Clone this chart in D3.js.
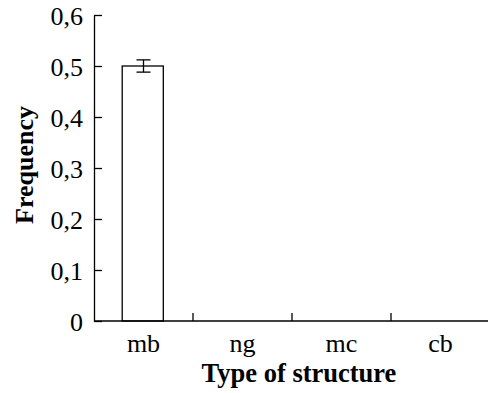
<!DOCTYPE html>
<html lang="en">
<head>
    <meta charset="UTF-8">
    <title>frequency</title>
    <script src="https://cdn.jsdelivr.net/npm/d3@7"></script>
    <style>
        body { margin: 0; background: #fff; }
        svg text { font-family: "Liberation Serif", "Times New Roman", serif; fill: #000; }
        .axis path, .axis line { stroke: #000; stroke-width: 1.3px; }
        .bar { fill: #fff; stroke: #000; stroke-width: 1.3px; }
        .err line { stroke: #000; stroke-width: 1.3px; fill: none; }
    </style>
</head>
<body>
    <svg width="488" height="393"></svg>
    <script>
        var categories = ['mb', 'ng', 'mc', 'cb'],
            values = [0.5, 0, 0, 0],
            errors = [0.012, 0, 0, 0],
            yTicks = [0, 0.1, 0.2, 0.3, 0.4, 0.5, 0.6],
            yTickLabels = ['0', '0,1', '0,2', '0,3', '0,4', '0,5', '0,6'];

        (function() {
        var svg = d3.select('svg'),
            pLeft = 94, pRight = 490, pTop = 15, pBottom = 321,
            fs = '26px';

        var x = d3.scaleBand()
            .domain(categories)
            .range([pLeft, pRight]);

        var y = d3.scaleLinear()
            .domain([0, 0.6])
            .range([pBottom, pTop]);

        // y axis, ticks pointing inward
        var yAxis = svg.append('g')
            .classed('axis', true)
            .attr('transform', 'translate(' + pLeft + ',0)')
            .call(d3.axisRight(y)
                .tickValues(yTicks)
                .tickSize(8)
                .tickSizeOuter(0)
                .tickFormat(function(d, i) { return yTickLabels[i]; }));
        yAxis.selectAll('text')
            .attr('x', -11)
            .attr('dy', '0.35em')
            .attr('text-anchor', 'end')
            .style('font-size', fs);

        // bars
        svg.selectAll('.bar')
            .data(values.map(function(v, i) { return {c: categories[i], v: v}; })
                .filter(function(d) { return d.v > 0; }))
            .enter()
            .append('rect')
            .classed('bar', true)
            .attr('x', function(d) { return x(d.c) + x.bandwidth() * 0.285; })
            .attr('width', x.bandwidth() * 0.415)
            .attr('y', function(d) { return y(d.v); })
            .attr('height', function(d) { return y(0) - y(d.v); });

        // error bars
        values.forEach(function(v, i) {
            if (!errors[i]) return;
            var cx = x(categories[i]) + x.bandwidth() / 2,
                hw = 7,
                g = svg.append('g').classed('err', true);
            g.append('line')
                .attr('x1', cx).attr('x2', cx)
                .attr('y1', y(v + errors[i])).attr('y2', y(v - errors[i]));
            g.append('line')
                .attr('x1', cx - hw).attr('x2', cx + hw)
                .attr('y1', y(v + errors[i])).attr('y2', y(v + errors[i]));
            g.append('line')
                .attr('x1', cx - hw).attr('x2', cx + hw)
                .attr('y1', y(v - errors[i])).attr('y2', y(v - errors[i]));
        });

        // x axis with ticks at category boundaries
        var xAxisG = svg.append('g').classed('axis', true);
        xAxisG.append('line')
            .attr('x1', pLeft).attr('x2', pRight)
            .attr('y1', pBottom).attr('y2', pBottom);
        xAxisG.selectAll('.bound')
            .data(categories.slice(1))
            .enter()
            .append('line')
            .attr('x1', function(d) { return x(d); })
            .attr('x2', function(d) { return x(d); })
            .attr('y1', pBottom).attr('y2', pBottom - 8);
        svg.selectAll('.cat')
            .data(categories)
            .enter()
            .append('text')
            .attr('x', function(d) { return x(d) + x.bandwidth() / 2; })
            .attr('y', 352)
            .attr('text-anchor', 'middle')
            .style('font-size', fs)
            .text(function(d) { return d; });

        svg.append('text')
            .attr('x', 299)
            .attr('y', 382)
            .attr('text-anchor', 'middle')
            .style('font-size', '26.5px')
            .style('font-weight', 'bold')
            .text('Type of structure');

        svg.append('text')
            .attr('transform', 'translate(33,165) rotate(-90)')
            .attr('text-anchor', 'middle')
            .style('font-size', fs)
            .style('font-weight', 'bold')
            .text('Frequency');
        })();
    </script>
</body>
</html>
